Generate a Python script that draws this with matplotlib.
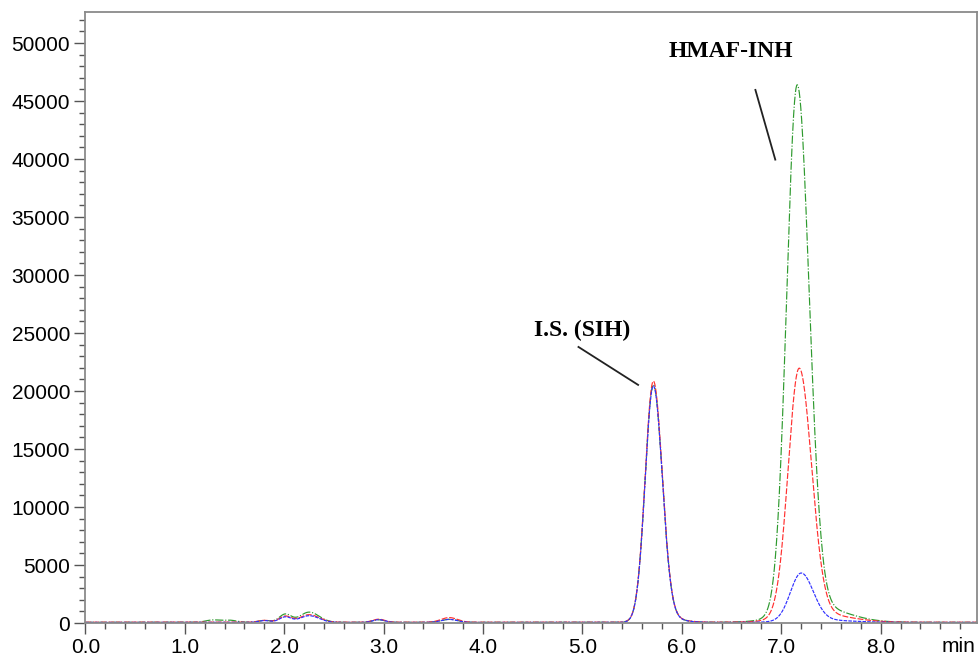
import numpy as np
import matplotlib.pyplot as plt

# Tablas de picos de cada canal: tiempo de retención (min), altura, sigma izq., sigma der.
tr_verde = [1.28, 1.45, 1.80, 2.01, 2.25, 2.95, 3.66, 5.713, 5.86, 7.16, 7.36]
h_verde = [200, 180, 160, 700, 880, 220, 260, 20300, 300, 45300, 1300]
si_verde = [0.07, 0.07, 0.06, 0.06, 0.09, 0.06, 0.08, 0.082, 0.15, 0.105, 0.30]
sd_verde = [0.07, 0.07, 0.06, 0.06, 0.10, 0.06, 0.08, 0.090, 0.15, 0.120, 0.30]

tr_rojo = [1.80, 2.01, 2.25, 2.95, 3.66, 5.713, 5.86, 7.18, 7.38]
h_rojo = [160, 520, 650, 260, 400, 20600, 300, 21340, 700]
si_rojo = [0.06, 0.06, 0.09, 0.06, 0.08, 0.082, 0.15, 0.11, 0.30]
sd_rojo = [0.06, 0.06, 0.10, 0.06, 0.08, 0.090, 0.15, 0.124, 0.30]

tr_azul = [1.80, 2.01, 2.25, 2.95, 3.66, 5.713, 5.86, 7.20, 7.40]
h_azul = [160, 470, 580, 240, 260, 20200, 300, 4100, 200]
si_azul = [0.06, 0.06, 0.09, 0.06, 0.08, 0.082, 0.15, 0.108, 0.30]
sd_azul = [0.06, 0.06, 0.10, 0.06, 0.08, 0.090, 0.15, 0.122, 0.30]

linea_base = [60, 70, 50]

y_ticks = [0, 5000, 10000, 15000, 20000, 25000, 30000, 35000, 40000, 45000, 50000]
x_ticks = [0.0, 1.0, 2.0, 3.0, 4.0, 5.0, 6.0, 7.0, 8.0]


def cromatograma(t, tr, h, si, sd, base):
    # Suma de picos gaussianos asimétricos sobre una línea base
    senal = np.full_like(t, float(base))
    for r, a, s1, s2 in zip(tr, h, si, sd):
        s = np.where(t < r, s1, s2)
        senal += a * np.exp(-0.5 * ((t - r) / s) ** 2)
    return senal


plt.rcParams['font.family'] = ['Liberation Sans', 'DejaVu Sans']

t = np.linspace(0, 8.97, 3000)

fig = plt.figure(figsize=(9.8, 6.59), dpi=100)
ax = fig.add_axes([0.0872, 0.0546, 0.9098, 0.9276])

ax.plot(t, cromatograma(t, tr_verde, h_verde, si_verde, sd_verde, linea_base[0]),
        color='#2e9a2e', lw=0.85, ls=(0, (7, 1.5, 1, 1.5)))
ax.plot(t, cromatograma(t, tr_rojo, h_rojo, si_rojo, sd_rojo, linea_base[1]),
        color='#ff3030', lw=0.85, ls=(0, (5, 1.5)))
ax.plot(t, cromatograma(t, tr_azul, h_azul, si_azul, sd_azul, linea_base[2]),
        color='#3030ff', lw=0.85, ls=(0, (3, 1)))

ax.set_xlim(0, 8.97)
ax.set_ylim(0, 52700)
ax.set_xticks(x_ticks)
ax.set_xticklabels([f'{v:.1f}' for v in x_ticks])
ax.set_xticks(np.arange(0, 8.9, 0.2), minor=True)
ax.set_yticks(y_ticks)
ax.set_yticklabels([str(v) for v in y_ticks])
ax.set_yticks(np.arange(0, 52700, 1000), minor=True)

for lado in ax.spines.values():
    lado.set_color('#8a8a8a')
    lado.set_linewidth(1.3)
ax.tick_params(which='major', length=8, width=1, color='#555555', labelsize=15, pad=3)
ax.tick_params(which='minor', length=4.5, width=1, color='#555555')

ax.annotate('min', xy=(1.0, 0), xycoords='axes fraction', xytext=(-1, -10),
            textcoords='offset points', ha='right', va='top', fontsize=15)

# Etiquetas de los picos
ax.text(6.49, 49300, 'HMAF-INH', ha='center', va='center', fontsize=17,
        fontweight='bold', family=['Liberation Serif', 'DejaVu Serif'])
ax.plot([6.74, 6.94], [45960, 39950], color='#222222', lw=1.3)

ax.text(5.0, 25260, 'I.S. (SIH)', ha='center', va='center', fontsize=17,
        fontweight='bold', family=['Liberation Serif', 'DejaVu Serif'])
ax.plot([4.96, 5.56], [23800, 20530], color='#222222', lw=1.3)

fig.savefig('out.png', dpi=100)
